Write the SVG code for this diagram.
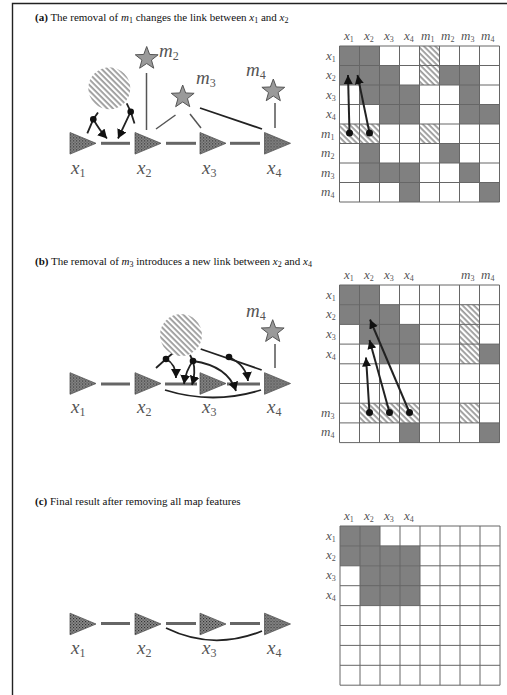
<svg xmlns="http://www.w3.org/2000/svg" width="507" height="695" viewBox="0 0 507 695">
<style>
.title{font-family:"Liberation Serif","DejaVu Serif",serif;font-size:11px;fill:#111}
.lab{font-family:"Liberation Serif","DejaVu Serif",serif;font-style:italic;font-size:19px;fill:#555}
.sub{font-size:12px;font-style:normal}
.mlab{font-family:"Liberation Serif","DejaVu Serif",serif;font-style:italic;font-size:13px;fill:#555}
.msub{font-size:8px;font-style:normal}
.tri{fill:url(#stip);stroke:#555;stroke-width:0.8}
.star{fill:#9a9a9a;stroke:#555;stroke-width:1}
.link{stroke:#666;stroke-width:3;fill:none}
.thin{stroke:#555;stroke-width:1.5;fill:none}
.blk{stroke:#222;stroke-width:1.8;fill:none}
.arr{stroke:#222;stroke-width:1.8;fill:none;marker-end:url(#ah)}
.marr{stroke:#222;stroke-width:2;fill:none;marker-end:url(#mah)}
.dot{fill:#111}
.dark{fill:#808080}
.hat{fill:url(#hatch)}
.grid{stroke:#666;stroke-width:1;fill:none}
</style>
<defs>
<pattern id="stip" width="3" height="3" patternUnits="userSpaceOnUse">
<rect width="3" height="3" fill="#8c8c8c"/>
<rect x="0" y="0" width="1.2" height="1.2" fill="#333"/>
<rect x="1.5" y="1.5" width="1.2" height="1.2" fill="#444"/>
</pattern>
<pattern id="hatch" width="4" height="4" patternUnits="userSpaceOnUse" patternTransform="rotate(45)">
<rect width="4" height="4" fill="#fff"/>
<rect y="0" width="4" height="1.8" fill="#9a9a9a"/>
</pattern>
<polygon id="star" points="0,-12 2.94,-4.05 11.41,-3.71 4.76,1.55 7.05,9.71 0,5 -7.05,9.71 -4.76,1.55 -11.41,-3.71 -2.94,-4.05"/>
<polygon id="tri" points="0,-10.8 26,0 0,10.8"/>
<marker id="ah" markerWidth="10" markerHeight="10" refX="9" refY="5" orient="auto" markerUnits="userSpaceOnUse">
<path d="M0,0 L9,5 L0,10 z" fill="#111"/>
</marker>
<marker id="mah" markerWidth="10" markerHeight="10" refX="9" refY="5" orient="auto" markerUnits="userSpaceOnUse">
<path d="M0,0.5 L9,5 L0,9.5 z" fill="#111"/>
</marker>
</defs>
<rect width="507" height="695" fill="#fff"/>
<path d="M12.5,695 V3.5 H507" stroke="#222" stroke-width="1.4" fill="none"/>

<!-- titles -->
<text class="title" x="35" y="21"><tspan font-weight="bold">(a)</tspan> The removal of <tspan font-style="italic">m</tspan><tspan font-size="8" dy="2">1</tspan><tspan dy="-2"> changes the link between </tspan><tspan font-style="italic">x</tspan><tspan font-size="8" dy="2">1</tspan><tspan dy="-2"> and </tspan><tspan font-style="italic">x</tspan><tspan font-size="8" dy="2">2</tspan></text>
<text class="title" x="35" y="265"><tspan font-weight="bold">(b)</tspan> The removal of <tspan font-style="italic">m</tspan><tspan font-size="8" dy="2">3</tspan><tspan dy="-2"> introduces a new link between </tspan><tspan font-style="italic">x</tspan><tspan font-size="8" dy="2">2</tspan><tspan dy="-2"> and </tspan><tspan font-style="italic">x</tspan><tspan font-size="8" dy="2">4</tspan></text>
<text class="title" x="35" y="505"><tspan font-weight="bold">(c)</tspan> Final result after removing all map features</text>

<!-- ===== Panel (a) graph ===== -->
<g id="connectors-a">
<line class="link" x1="101" y1="143.3" x2="130" y2="143.3"/>
<line class="link" x1="166" y1="143.3" x2="196" y2="143.3"/>
<line class="link" x1="230" y1="143.3" x2="260" y2="143.3"/>
<line class="thin" x1="146.5" y1="73" x2="146.5" y2="130"/>
<line class="thin" x1="175.5" y1="115" x2="156" y2="129"/>
<line class="thin" x1="190" y1="114" x2="201" y2="128"/>
<line class="blk" x1="200" y1="108" x2="262" y2="129"/>
<line class="thin" x1="275" y1="103" x2="275" y2="128"/>
<path class="blk" d="M87.3,133.3 L93.3,119.3 L98,112.5"/>
<path class="arr" d="M93.3,119.3 Q100,131 107,138.5"/>
<path class="blk" d="M126.7,103.3 L130.7,111.7 L134.5,123.5"/>
<path class="arr" d="M130.7,111.7 Q124,126 118,138.5"/>
<circle class="dot" cx="93.3" cy="119.3" r="3.3"/>
<circle class="dot" cx="130.7" cy="111.7" r="3.3"/>
</g>
<g id="m1-a"><circle cx="109.3" cy="88.3" r="21" fill="url(#hatch)"/></g>
<g id="m2-a"><use href="#star" class="star" transform="translate(146.7,58.5)"/><text class="lab" x="159" y="57">m<tspan class="sub" dy="3">2</tspan></text></g>
<g id="m3-a"><use href="#star" class="star" transform="translate(182.7,97)"/><text class="lab" x="196" y="83.5">m<tspan class="sub" dy="3">3</tspan></text></g>
<g id="m4-a"><use href="#star" class="star" transform="translate(273.3,91)"/><text class="lab" x="246" y="76">m<tspan class="sub" dy="3">4</tspan></text></g>
<g id="x1-a"><use href="#tri" class="tri" transform="translate(70,143.3)"/><text class="lab" x="71" y="173.5">x<tspan class="sub" dy="3">1</tspan></text></g>
<g id="x2-a"><use href="#tri" class="tri" transform="translate(135,143.3)"/><text class="lab" x="137" y="173.5">x<tspan class="sub" dy="3">2</tspan></text></g>
<g id="x3-a"><use href="#tri" class="tri" transform="translate(200,143.3)"/><text class="lab" x="202" y="173.5">x<tspan class="sub" dy="3">3</tspan></text></g>
<g id="x4-a"><use href="#tri" class="tri" transform="translate(264.5,143.3)"/><text class="lab" x="267" y="173.5">x<tspan class="sub" dy="3">4</tspan></text></g>

<!-- ===== Panel (a) matrix ===== -->
<g id="matrix-a">
<g class="dark">
<rect x="339.5" y="46" width="40" height="19.5"/>
<rect x="339.5" y="65.5" width="60" height="19.5"/>
<rect x="439.5" y="65.5" width="40" height="19.5"/>
<rect x="359.5" y="85" width="60" height="19.5"/>
<rect x="459.5" y="85" width="20" height="19.5"/>
<rect x="379.5" y="104.5" width="40" height="19.5"/>
<rect x="459.5" y="104.5" width="40" height="19.5"/>
<rect x="359.5" y="143.5" width="20" height="19.5"/>
<rect x="439.5" y="143.5" width="20" height="19.5"/>
<rect x="359.5" y="163" width="60" height="19.5"/>
<rect x="459.5" y="163" width="20" height="19.5"/>
<rect x="399.5" y="182.5" width="20" height="19.5"/>
<rect x="479.5" y="182.5" width="20" height="19.5"/>
</g>
<g class="hat">
<rect x="419.5" y="46" width="20" height="39"/>
<rect x="339.5" y="124" width="40" height="19.5"/>
<rect x="419.5" y="124" width="20" height="19.5"/>
</g>
<path class="grid" d="M339.5,46 V202 M359.5,46 V202 M379.5,46 V202 M399.5,46 V202 M419.5,46 V202 M439.5,46 V202 M459.5,46 V202 M479.5,46 V202 M499.5,46 V202 M339.5,46 H499.5 M339.5,65.5 H499.5 M339.5,85 H499.5 M339.5,104.5 H499.5 M339.5,124 H499.5 M339.5,143.5 H499.5 M339.5,163 H499.5 M339.5,182.5 H499.5 M339.5,202 H499.5"/>
<g class="mlab">
<text x="344" y="40">x<tspan class="msub" dy="2">1</tspan></text>
<text x="364" y="40">x<tspan class="msub" dy="2">2</tspan></text>
<text x="384" y="40">x<tspan class="msub" dy="2">3</tspan></text>
<text x="404" y="40">x<tspan class="msub" dy="2">4</tspan></text>
<text x="421" y="40">m<tspan class="msub" dy="2">1</tspan></text>
<text x="441" y="40">m<tspan class="msub" dy="2">2</tspan></text>
<text x="461" y="40">m<tspan class="msub" dy="2">3</tspan></text>
<text x="481" y="40">m<tspan class="msub" dy="2">4</tspan></text>
<text x="326" y="59.5">x<tspan class="msub" dy="2">1</tspan></text>
<text x="326" y="79">x<tspan class="msub" dy="2">2</tspan></text>
<text x="326" y="98.5">x<tspan class="msub" dy="2">3</tspan></text>
<text x="326" y="118">x<tspan class="msub" dy="2">4</tspan></text>
<text x="321" y="137.5">m<tspan class="msub" dy="2">1</tspan></text>
<text x="321" y="157">m<tspan class="msub" dy="2">2</tspan></text>
<text x="321" y="176.5">m<tspan class="msub" dy="2">3</tspan></text>
<text x="321" y="196">m<tspan class="msub" dy="2">4</tspan></text>
</g>
<line class="marr" x1="349.5" y1="133" x2="348" y2="75"/>
<line class="marr" x1="369.5" y1="133" x2="357.5" y2="75"/>
<circle class="dot" cx="349.5" cy="133" r="3.5"/>
<circle class="dot" cx="369.5" cy="133" r="3.5"/>
</g>

<!-- ===== Panel (b) graph ===== -->
<g id="connectors-b">
<line class="link" x1="101" y1="384" x2="130" y2="384"/>
<line class="link" x1="165" y1="384" x2="197" y2="384"/>
<line class="link" x1="227" y1="384" x2="260" y2="384"/>
<path class="blk" d="M165,390 Q213,405 261,390"/>
<line class="thin" x1="275" y1="344" x2="275" y2="368"/>
<path class="blk" d="M156,368 L166,359 L173,353"/>
<path class="arr" d="M166,359 Q176,364 176,378"/>
<path class="blk" d="M190,355 L193,361"/>
<path class="arr" d="M193,361 Q186,370 184,384"/>
<path class="arr" d="M193,361 Q196,372 192,385"/>
<path class="arr" d="M193,361 Q228,366 236,391"/>
<path class="blk" d="M200.7,349 L261.7,370"/>
<path class="arr" d="M229,357 Q246,365 248,381"/>
<circle class="dot" cx="166" cy="359" r="3.3"/>
<circle class="dot" cx="193" cy="361" r="3.3"/>
<circle class="dot" cx="229" cy="357" r="3.3"/>
</g>
<g id="m3-b"><circle cx="181" cy="335" r="21" fill="url(#hatch)"/></g>
<g id="m4-b"><use href="#star" class="star" transform="translate(272.7,331.7)"/><text class="lab" x="246" y="317">m<tspan class="sub" dy="3">4</tspan></text></g>
<g id="x1-b"><use href="#tri" class="tri" transform="translate(70,383.5)"/><text class="lab" x="71" y="413">x<tspan class="sub" dy="3">1</tspan></text></g>
<g id="x2-b"><use href="#tri" class="tri" transform="translate(135,383.5)"/><text class="lab" x="137" y="413">x<tspan class="sub" dy="3">2</tspan></text></g>
<g id="x3-b"><use href="#tri" class="tri" transform="translate(200,383.5)"/><text class="lab" x="202" y="413">x<tspan class="sub" dy="3">3</tspan></text></g>
<g id="x4-b"><use href="#tri" class="tri" transform="translate(264.5,383.5)"/><text class="lab" x="267" y="413">x<tspan class="sub" dy="3">4</tspan></text></g>

<!-- ===== Panel (b) matrix ===== -->
<g id="matrix-b">
<g class="dark">
<rect x="339.5" y="285" width="40" height="19.7"/>
<rect x="339.5" y="304.7" width="60" height="19.7"/>
<rect x="359.5" y="324.4" width="60" height="19.7"/>
<rect x="379.5" y="344.1" width="40" height="19.7"/>
<rect x="479.5" y="344.1" width="20" height="19.7"/>
<rect x="399.5" y="422.9" width="20" height="19.7"/>
<rect x="479.5" y="422.9" width="20" height="19.7"/>
</g>
<g class="hat">
<rect x="459.5" y="304.7" width="20" height="59.1"/>
<rect x="359.5" y="403.2" width="60" height="19.7"/>
<rect x="459.5" y="403.2" width="20" height="19.7"/>
</g>
<path class="grid" d="M339.5,285 V442.6 M359.5,285 V442.6 M379.5,285 V442.6 M399.5,285 V442.6 M419.5,285 V442.6 M439.5,285 V442.6 M459.5,285 V442.6 M479.5,285 V442.6 M499.5,285 V442.6 M339.5,285 H499.5 M339.5,304.7 H499.5 M339.5,324.4 H499.5 M339.5,344.1 H499.5 M339.5,363.8 H499.5 M339.5,383.5 H499.5 M339.5,403.2 H499.5 M339.5,422.9 H499.5 M339.5,442.6 H499.5"/>
<g class="mlab">
<text x="344" y="279">x<tspan class="msub" dy="2">1</tspan></text>
<text x="364" y="279">x<tspan class="msub" dy="2">2</tspan></text>
<text x="384" y="279">x<tspan class="msub" dy="2">3</tspan></text>
<text x="404" y="279">x<tspan class="msub" dy="2">4</tspan></text>
<text x="461" y="279">m<tspan class="msub" dy="2">3</tspan></text>
<text x="481" y="279">m<tspan class="msub" dy="2">4</tspan></text>
<text x="326" y="298.5">x<tspan class="msub" dy="2">1</tspan></text>
<text x="326" y="318.2">x<tspan class="msub" dy="2">2</tspan></text>
<text x="326" y="337.9">x<tspan class="msub" dy="2">3</tspan></text>
<text x="326" y="357.6">x<tspan class="msub" dy="2">4</tspan></text>
<text x="321" y="416.7">m<tspan class="msub" dy="2">3</tspan></text>
<text x="321" y="436.4">m<tspan class="msub" dy="2">4</tspan></text>
</g>
<line class="marr" x1="369.5" y1="412.5" x2="366" y2="357.5"/>
<line class="marr" x1="389.5" y1="412.5" x2="369.5" y2="340"/>
<line class="marr" x1="409.5" y1="412.5" x2="370" y2="319.5"/>
<circle class="dot" cx="369.5" cy="412.5" r="3.5"/>
<circle class="dot" cx="389.5" cy="412.5" r="3.5"/>
<circle class="dot" cx="409.5" cy="412.5" r="3.5"/>
</g>

<!-- ===== Panel (c) graph ===== -->
<g id="connectors-c">
<line class="link" x1="101" y1="623.5" x2="130" y2="623.5"/>
<line class="link" x1="166" y1="623.5" x2="196" y2="623.5"/>
<line class="link" x1="230" y1="623.5" x2="260" y2="623.5"/>
<path class="blk" d="M166,628 Q213,651 262,631"/>
</g>
<g id="x1-c"><use href="#tri" class="tri" transform="translate(70,624)"/><text class="lab" x="71" y="653.5">x<tspan class="sub" dy="3">1</tspan></text></g>
<g id="x2-c"><use href="#tri" class="tri" transform="translate(135,624)"/><text class="lab" x="137" y="653.5">x<tspan class="sub" dy="3">2</tspan></text></g>
<g id="x3-c"><use href="#tri" class="tri" transform="translate(200,624)"/><text class="lab" x="202" y="653.5">x<tspan class="sub" dy="3">3</tspan></text></g>
<g id="x4-c"><use href="#tri" class="tri" transform="translate(264.5,624)"/><text class="lab" x="267" y="653.5">x<tspan class="sub" dy="3">4</tspan></text></g>

<!-- ===== Panel (c) matrix ===== -->
<g id="matrix-c">
<g class="dark">
<rect x="340" y="526" width="40" height="19.9"/>
<rect x="340" y="545.9" width="80" height="19.9"/>
<rect x="360" y="565.8" width="60" height="39.8"/>
</g>
<path class="grid" d="M340,526 V685.2 M360,526 V685.2 M380,526 V685.2 M400,526 V685.2 M420,526 V685.2 M440,526 V685.2 M460,526 V685.2 M480,526 V685.2 M500,526 V685.2 M340,526 H500 M340,545.9 H500 M340,565.8 H500 M340,585.7 H500 M340,605.6 H500 M340,625.5 H500 M340,645.4 H500 M340,665.3 H500 M340,685.2 H500"/>
<g class="mlab">
<text x="344" y="520">x<tspan class="msub" dy="2">1</tspan></text>
<text x="364" y="520">x<tspan class="msub" dy="2">2</tspan></text>
<text x="384" y="520">x<tspan class="msub" dy="2">3</tspan></text>
<text x="404" y="520">x<tspan class="msub" dy="2">4</tspan></text>
<text x="326" y="539.5">x<tspan class="msub" dy="2">1</tspan></text>
<text x="326" y="559.4">x<tspan class="msub" dy="2">2</tspan></text>
<text x="326" y="579.3">x<tspan class="msub" dy="2">3</tspan></text>
<text x="326" y="599.2">x<tspan class="msub" dy="2">4</tspan></text>
</g>
</g>
</svg>
